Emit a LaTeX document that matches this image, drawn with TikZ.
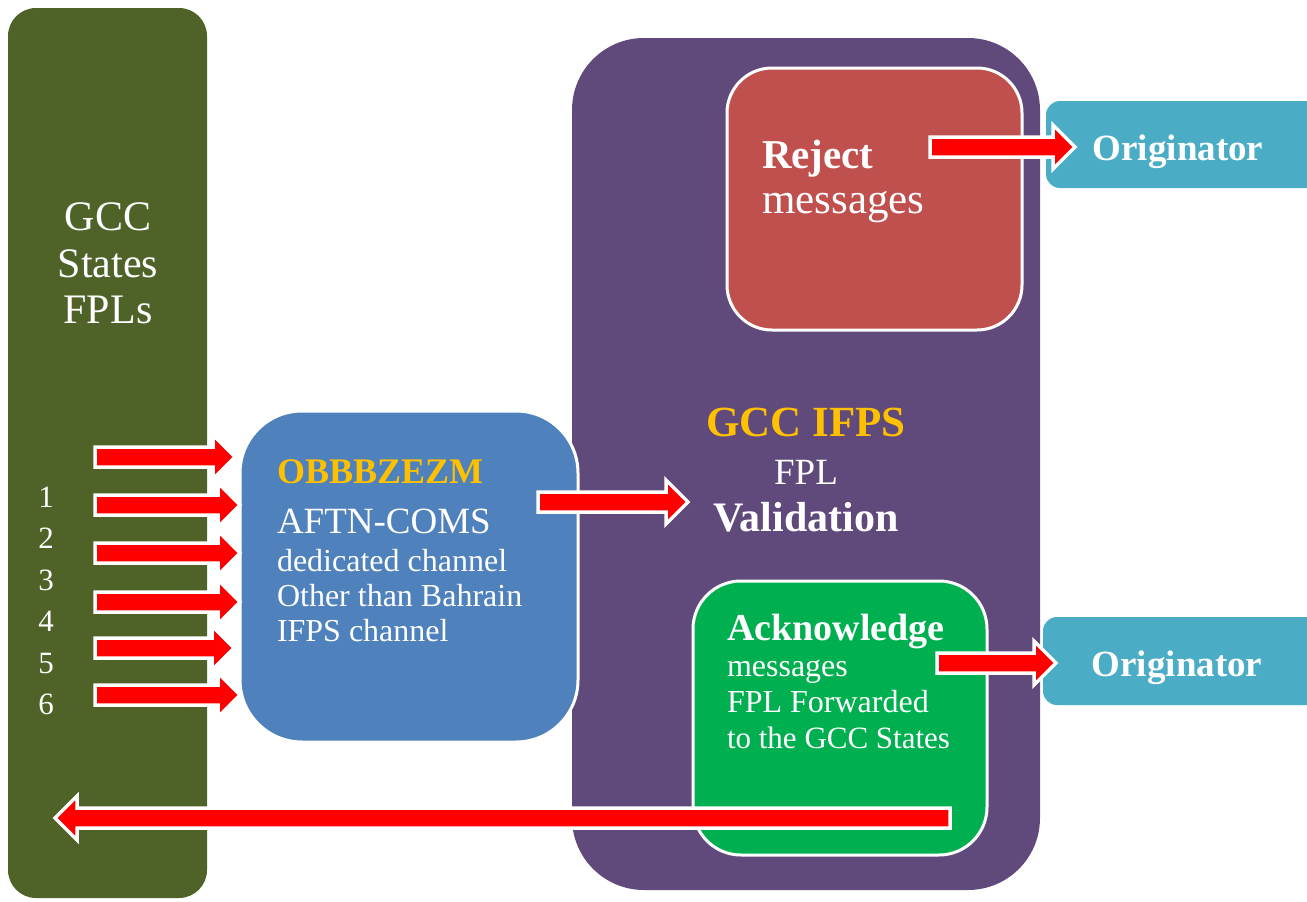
\documentclass[tikz,border=0pt]{standalone}
\usepackage{fontspec}
\setmainfont{Liberation Serif}
\usetikzlibrary{calc}
\definecolor{olive}{HTML}{4F6228}
\definecolor{plum}{HTML}{604A7B}
\definecolor{brick}{HTML}{C0504D}
\definecolor{leaf}{HTML}{00B050}
\definecolor{steel}{HTML}{4F81BD}
\definecolor{teal}{HTML}{4BACC6}
\definecolor{gold}{HTML}{FFC000}
\definecolor{arrowred}{HTML}{FF0000}
\tikzset{
  panel/.style={inner sep=0pt, outer sep=0pt, anchor=north west},
  whiteframe/.style={draw=white, line width=3pt},
  txt/.style={inner sep=0pt, outer sep=0pt, text=white},
  blockarrow/.style={fill=arrowred, draw=white, line width=3.5pt, line join=miter},
}
\newcommand\blockarr[2]{%
  \path[blockarrow] let \p1=(#1), \p2=(#2), \n1={sign(\x2-\x1)} in
  (\x1,{\y1+10pt}) -- ({\x2-\n1*22pt},{\y1+10pt}) -- ({\x2-\n1*22pt},{\y1+22pt})
  -- (\x2,\y1) -- ({\x2-\n1*22pt},{\y1-22pt}) -- ({\x2-\n1*22pt},{\y1-10pt})
  -- (\x1,{\y1-10pt}) -- cycle;}
\newcommand\fs[2]{\fontsize{#1}{#2}\selectfont}
\begin{document}
\begin{tikzpicture}[x=1pt,y=-1pt]
\useasboundingbox (0,0) rectangle (1307,902);
% panels
\node[panel, fill=olive, rounded corners=28pt, minimum width=199pt, minimum height=890pt] (col) at (8,8) {};
\node[panel, fill=plum, rounded corners=72pt, minimum width=468pt, minimum height=852pt] (ifps) at (572,38) {};
\node[panel, fill=brick, whiteframe, rounded corners=45pt, minimum width=295pt, minimum height=262pt] (rej) at (727,68) {};
\node[panel, fill=leaf, whiteframe, rounded corners=48pt, minimum width=294pt, minimum height=274pt] (ack) at (693,581) {};
\node[panel, fill=steel, whiteframe, rounded corners=62pt, minimum width=338pt, minimum height=331pt] (aftn) at (240,411) {};
\node[panel, fill=teal, rounded corners=14pt, minimum width=280pt, minimum height=87pt] (orig1) at (1046,101) {};
\node[panel, fill=teal, rounded corners=14pt, minimum width=280pt, minimum height=88pt] (orig2) at (1043,617) {};
% left column text
\node[txt, anchor=base] (t1) at (108,230) {\fs{42}{47}GCC};
\node[txt, anchor=base] (t2) at (108,277) {\fs{42}{47}States};
\node[txt, anchor=base] (t3) at (108,323) {\fs{42}{47}FPLs};
\foreach \n/\y in {1/507,2/548,3/590,4/631,5/673,6/714}
  \node[txt, anchor=base] (num\n) at (46,\y) {\fs{31}{34}\n};
% blue box text
\node[txt, anchor=base west, text=gold] (b1) at (277,483) {\fs{36}{40}\bfseries OBBBZEZM};
\node[txt, anchor=base west] (b2) at (277,533) {\fs{37}{40}AFTN-COMS};
\node[txt, anchor=base west] (b3) at (277,571) {\fs{32}{35}dedicated channel};
\node[txt, anchor=base west] (b4) at (277,606) {\fs{32}{35}Other than Bahrain};
\node[txt, anchor=base west] (b5) at (277,641) {\fs{32}{35}IFPS channel};
% center text
\node[txt, anchor=base, text=gold] (c1) at (806,436) {\fs{43}{48}\bfseries GCC IFPS};
\node[txt, anchor=base] (c2) at (806,484) {\fs{37}{40}FPL};
\node[txt, anchor=base] (c3) at (806,531) {\fs{42}{46}\bfseries Validation};
% reject
\node[txt, anchor=base west] (r1) at (762,168) {\fs{41}{46}\bfseries Reject};
\node[txt, anchor=base west] (r2) at (762,213) {\fs{43}{46}messages};
% acknowledge
\node[txt, anchor=base west] (k1) at (727,640) {\fs{38}{40}\bfseries Acknowledge};
\node[txt, anchor=base west] (k2) at (727,676) {\fs{32}{35}messages};
\node[txt, anchor=base west] (k3) at (727,712) {\fs{32}{35}FPL Forwarded};
\node[txt, anchor=base west] (k4) at (727,748) {\fs{31}{35}to the GCC States};
% originators
\node[txt, anchor=base] (o1) at (1178,160) {\fs{37}{40}\bfseries Originator};
\node[txt, anchor=base] (o2) at (1177,676) {\fs{37}{40}\bfseries Originator};
% arrows
\foreach \i/\y/\e in {1/457/235,2/505/240,3/553/240,4/602/240,5/648/234,6/695/240}{
  \coordinate (s\i) at (95,\y);
  \coordinate (e\i) at (\e,\y);
  \blockarr{s\i}{e\i}
}
\coordinate (ms) at (538,502); \coordinate (me) at (688,502);
\blockarr{ms}{me}
\coordinate (rs) at (930,147); \coordinate (re) at (1075,147);
\blockarr{rs}{re}
\coordinate (ks) at (937,663); \coordinate (ke) at (1056,663);
\blockarr{ks}{ke}
\coordinate (bs) at (950,818); \coordinate (be) at (55,818);
\blockarr{bs}{be}
\end{tikzpicture}
\end{document}
